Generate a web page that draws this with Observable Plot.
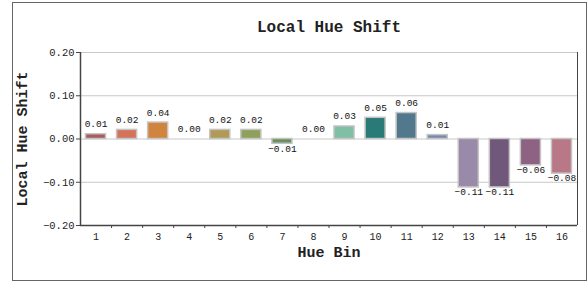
<!DOCTYPE html>
<html>
<head>
<meta charset="utf-8">
<script src="https://cdn.jsdelivr.net/npm/d3@7"></script>
<script src="https://cdn.jsdelivr.net/npm/@observablehq/plot@0.6"></script>
<style>
  html, body { margin: 0; padding: 0; background: #fff; }
  #wrap { position: relative; width: 588px; height: 281px; overflow: hidden; }
  #border { position: absolute; left: 12px; top: 2px; width: 573px; height: 277px; border: 1px solid #666; pointer-events: none; }
  #chart svg { display: block; }
</style>
</head>
<body>
<div id="wrap"><div id="chart"></div><div id="border"></div></div>
<script>
const bins = [1, 2, 3, 4, 5, 6, 7, 8, 9, 10, 11, 12, 13, 14, 15, 16];
const shifts = [0.011, 0.021, 0.038, 0.0, 0.021, 0.021, -0.011, 0.0, 0.029, 0.049, 0.060, 0.009, -0.112, -0.112, -0.061, -0.080];
const colors = ["#a85a5e", "#d4735a", "#d0843e", "#c69a48", "#b09a55", "#8fa05a", "#6a9060", "#5f9e80", "#7fbfa5", "#2a7a78", "#52788e", "#7888b0", "#9a8aaa", "#70587a", "#8e6282", "#b87888"];
const yTicks = [-0.2, -0.1, 0, 0.1, 0.2];
const title = "Local Hue Shift";
const xLabel = "Hue Bin";
const yLabel = "Local Hue Shift";

const data = bins.map((b, i) => ({bin: b, value: shifts[i], color: colors[i], label: shifts[i].toFixed(2).replace("-", "\u2212")}));
const boundaries = bins.slice(0, -1).map(b => b + 0.5);
const mono = "Liberation Mono, DejaVu Sans Mono, monospace";

const plot = Plot.plot({
  width: 588,
  height: 281,
  marginLeft: 80,
  marginRight: 11,
  marginTop: 52,
  marginBottom: 56,
  style: {fontFamily: mono, fontSize: "10.5px", color: "#222", background: "transparent"},
  x: {type: "linear", domain: [0.5, 16.5]},
  y: {domain: [-0.2, 0.2]},
  marks: [
    Plot.ruleY(yTicks, {stroke: "#c8c8c8", strokeWidth: 1}),
    Plot.rectY(data.filter(d => d.value !== 0), {x1: d => d.bin - 0.5, x2: d => d.bin + 0.5, y1: 0, y2: "value", fill: "color", stroke: "#c4c4c4", strokeWidth: 1.5, insetLeft: 5.5, insetRight: 5.5}),
    Plot.text(data.filter(d => d.value >= 0), {x: "bin", y: "value", text: "label", lineAnchor: "bottom", dy: -7, fontSize: 9.5, fill: "#111"}),
    Plot.text(data.filter(d => d.value < 0), {x: "bin", y: "value", text: "label", lineAnchor: "top", dy: 1, fontSize: 9.5, fill: "#111"}),
    Plot.ruleY([-0.2], {stroke: "#444", strokeWidth: 1.5}),
    Plot.ruleX([0.5], {y1: -0.2, y2: 0.2, stroke: "#444", strokeWidth: 1.5}),
    Plot.ruleX([16.5], {y1: -0.2, y2: 0.2, stroke: "#444", strokeWidth: 1}),
    Plot.axisY({ticks: yTicks, tickFormat: d => d3.format(".2f")(d).replace("-", "\u2212"), tickSize: 4, tickPadding: 2, stroke: "#444", label: null, fontSize: 10.5}),
    Plot.axisX({ticks: boundaries, tickFormat: () => "", tickSize: 3, stroke: "#444", label: null}),
    Plot.axisX({ticks: bins, tickFormat: d => String(d), tickSize: 0, tickPadding: 7, label: null, fontSize: 10}),
    Plot.text([title], {frameAnchor: "top", dy: -32, fontSize: 16, fontWeight: "bold", fill: "#222"}),
    Plot.text([xLabel], {frameAnchor: "bottom", dy: 31, fontSize: 15, fontWeight: "bold", fill: "#222"}),
    Plot.text([yLabel], {frameAnchor: "left", textAnchor: "middle", dx: -58, rotate: -90, fontSize: 15, fontWeight: "bold", fill: "#222"})
  ]
});
document.getElementById("chart").appendChild(plot);
</script>
</body>
</html>
